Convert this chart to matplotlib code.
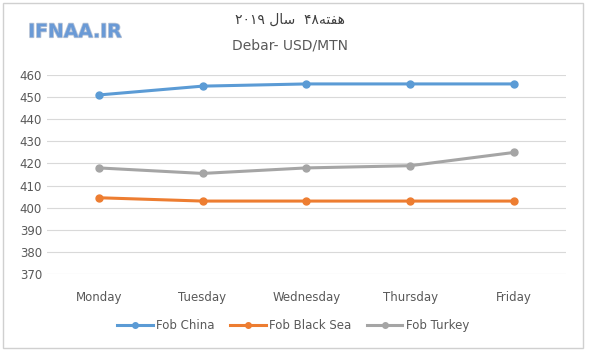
import matplotlib.pyplot as plt
import matplotlib.patheffects as pe
from matplotlib.patches import Rectangle

# datos de la grafica
dias = ['Monday', 'Tuesday', 'Wednesday', 'Thursday', 'Friday']
fob_china = [451, 455, 456, 456, 456]
fob_black_sea = [404.5, 403, 403, 403, 403]
fob_turkey = [418, 415.5, 418, 419, 425]
y_ticks = [370, 380, 390, 400, 410, 420, 430, 440, 450, 460]

# "هفته۴۸ سال ۲۰۱۹" escrito en orden visual con formas de presentacion
titulo_fa = ('\u06F2\u06F0\u06F1\u06F9 '
             '\uFEDD\uFE8E\uFEB3  '
             '\u06F4\u06F8'
             '\uFEEA\uFE98\uFED4\uFEEB')

fig = plt.figure(figsize=(6, 3.61), dpi=100)
ax = fig.add_axes([0.078, 0.241, 0.865, 0.551])

ax.plot(dias, fob_china, color='#5B9BD5', lw=2.2, marker='o', ms=5, label='Fob China')
ax.plot(dias, fob_black_sea, color='#ED7D31', lw=2.2, marker='o', ms=5, label='Fob Black Sea')
ax.plot(dias, fob_turkey, color='#A5A5A5', lw=2.2, marker='o', ms=5, label='Fob Turkey')

ax.set_ylim(370, 460)
ax.set_xlim(-0.5, 4.5)
ax.set_yticks(y_ticks)
ax.grid(axis='y', color='#d9d9d9', lw=0.8)
ax.set_axisbelow(True)
for s in ax.spines.values():
    s.set_visible(False)
ax.tick_params(length=0, colors='#595959', labelsize=8.5)
ax.tick_params(axis='x', pad=12)

ax.legend(loc='upper center', bbox_to_anchor=(0.475, -0.175), ncol=3, frameon=False,
          fontsize=8.5, labelcolor='#595959', handlelength=3, columnspacing=1.3,
          handletextpad=0.3, markerscale=0.8)

fig.text(0.483, 0.945, titulo_fa, ha='center', va='center', fontsize=10,
         color='#404040', family='DejaVu Sans')
fig.text(0.483, 0.875, 'Debar- USD/MTN', ha='center', va='center', fontsize=10,
         color='#595959')
fig.text(0.125, 0.912, 'IFNAA.IR', ha='center', va='center', fontsize=13.5,
         fontweight='bold', color='#6a9ad6',
         path_effects=[pe.withStroke(linewidth=1.2, foreground='#b8c4d6')])

# marco gris del grafico
fig.patches.append(Rectangle((0.005, 0.035), 0.967, 0.958, transform=fig.transFigure,
                             fill=False, ec='#d0d0d0', lw=1))

fig.savefig('out.png', dpi=100)
